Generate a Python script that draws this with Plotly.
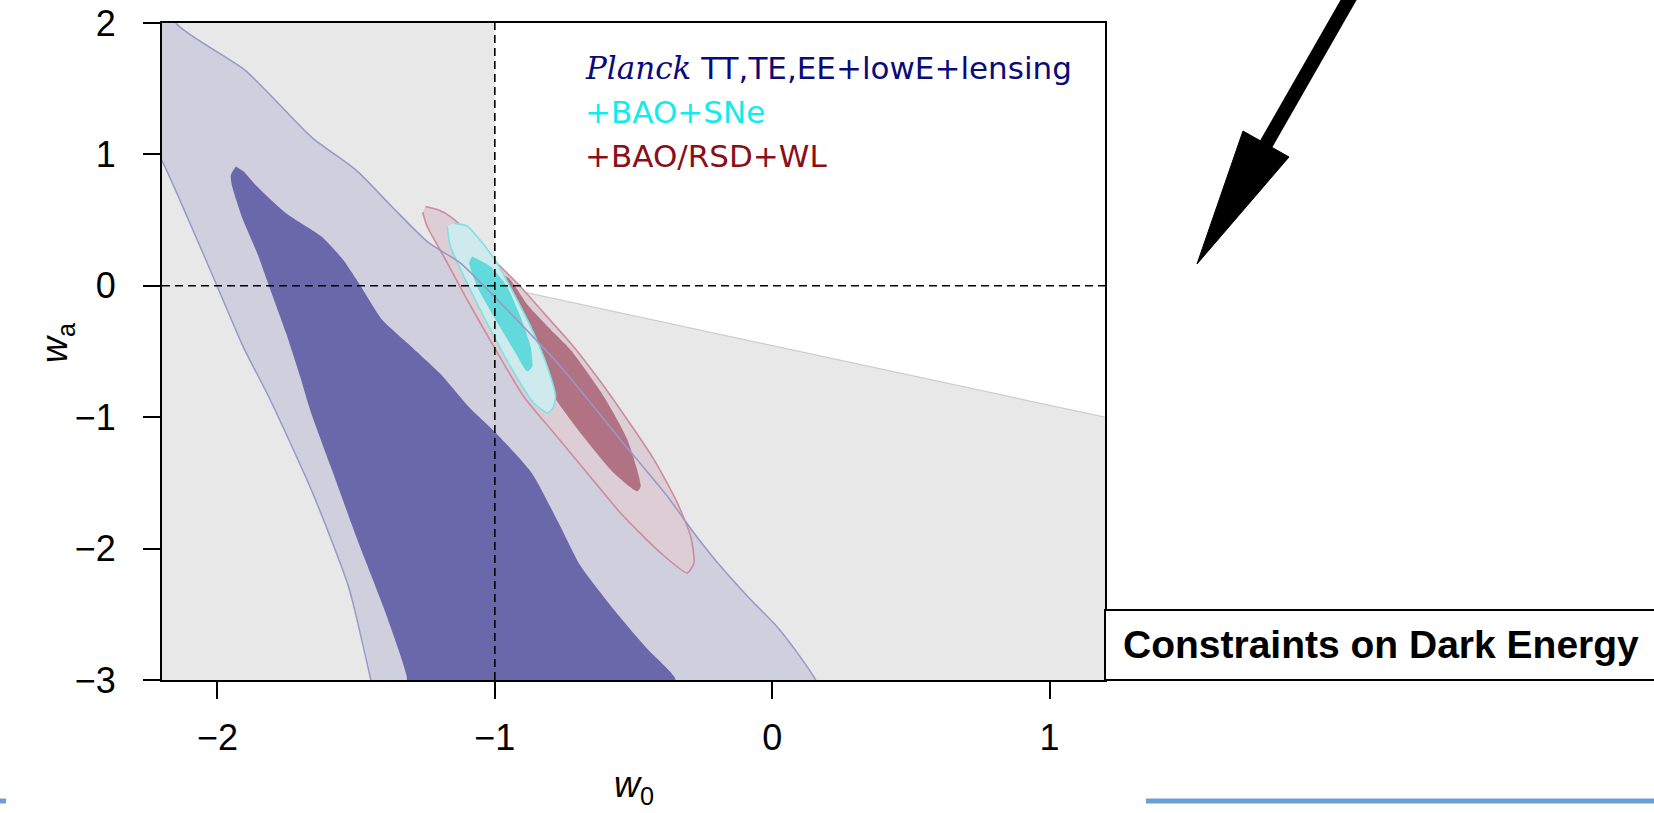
import plotly.graph_objects as go

# ---- data: (w0, wa) contour vertices ----
# region of parameter space outside the prior (grey)
prior_w0 = [-2.2, -1.0, -1.0, 1.2, 1.2, -2.2]
prior_wa = [2.0, 2.0, 0.0, -1.0, -3.0, -3.0]
prior_edge_w0 = [-1.0, 1.2]
prior_edge_wa = [0.0, -1.0]

# Planck TT,TE,EE+lowE+lensing, 95% region
planck95_w0 = [-2.40, -2.19, -2.15, -1.90, -1.66, -1.50, -1.37, -1.24, -1.124, -0.944,
               -0.763, -0.547, -0.378, -0.282, -0.186, -0.09, 0.02, 0.10, 0.157, 0.20,
               -1.47, -1.447, -1.528, -1.657, -1.810, -1.908, -2.011, -2.115, -2.20, -2.26, -2.40]
planck95_wa = [2.30, 2.30, 2.00, 1.64, 1.13, 0.88, 0.60, 0.33, 0.173, -0.208,
               -0.614, -1.171, -1.602, -1.881, -2.135, -2.36, -2.60, -2.82, -3.00, -3.20,
               -3.20, -3.00, -2.287, -1.576, -0.867, -0.461, 0.046, 0.553, 0.95, 1.15, 2.30]
# Planck TT,TE,EE+lowE+lensing, 68% region
planck68_w0 = [-1.934, -1.952, -1.947, -1.908, -1.857, -1.805, -1.753, -1.702, -1.665,
               -1.592, -1.496, -1.399, -1.318, -1.31, -0.33, -0.352, -0.448, -0.561,
               -0.690, -0.770, -0.867, -0.996, -1.09, -1.199, -1.302, -1.406, -1.483,
               -1.547, -1.625, -1.753, -1.857, -1.905]
planck68_wa = [0.907, 0.84, 0.755, 0.502, 0.25, -0.054, -0.358, -0.69, -0.95,
               -1.374, -1.93, -2.46, -2.97, -3.2, -3.2, -2.98, -2.768, -2.49,
               -2.135, -1.805, -1.424, -1.12, -0.93, -0.664, -0.461, -0.259, -0.005,
               0.198, 0.375, 0.553, 0.755, 0.87]

# +BAO/RSD+WL
rsd95_w0 = [-1.250, -1.20, -1.160, -1.064, -0.992, -0.908, -0.823, -0.727, -0.640, -0.547,
            -0.426, -0.342, -0.294, -0.282, -0.306, -0.402, -0.547, -0.667, -0.787,
            -0.896, -1.004, -1.100, -1.184, -1.244, -1.260]
rsd95_wa = [0.603, 0.575, 0.527, 0.350, 0.173, -0.005, -0.208, -0.436, -0.67, -0.943,
            -1.323, -1.652, -1.906, -2.109, -2.185, -2.033, -1.729, -1.424, -1.120,
            -0.842, -0.461, -0.106, 0.223, 0.451, 0.560]
rsd68_w0 = [-0.99, -0.95, -0.88, -0.80, -0.727, -0.607, -0.522, -0.474, -0.486,
            -0.571, -0.691, -0.787, -0.847, -0.896, -0.95]
rsd68_wa = [0.10, 0.06, -0.15, -0.33, -0.487, -0.842, -1.171, -1.526, -1.564,
            -1.424, -1.120, -0.842, -0.614, -0.385, -0.15]

# +BAO+SNe
sne95_w0 = [-1.148, -1.10, -1.064, -0.992, -0.920, -0.860, -0.811, -0.781, -0.790,
            -0.811, -0.860, -0.944, -1.028, -1.100, -1.160, -1.172]
sne95_wa = [0.477, 0.455, 0.375, 0.173, -0.106, -0.360, -0.614, -0.842, -0.930,
            -0.968, -0.892, -0.614, -0.284, 0.020, 0.299, 0.451]
sne68_w0 = [-1.082, -1.016, -0.956, -0.908, -0.871, -0.865, -0.883, -0.932, -1.004,
            -1.064, -1.094]
sne68_wa = [0.223, 0.147, -0.005, -0.233, -0.461, -0.614, -0.651, -0.487, -0.233,
            -0.005, 0.173]

# cosmological-constant reference point
lcdm_w0 = -1.0
lcdm_wa = 0.0

x_range = [-2.2, 1.2]
y_range = [-3.0, 2.0]
x_ticks = [-2, -1, 0, 1]
y_ticks = [-3, -2, -1, 0, 1, 2]

legend_lines = [
    ('<span style="font-family:\'DejaVu Serif\'"><i>Planck</i></span> TT,TE,EE+lowE+lensing', "#0a0a78"),
    ("+BAO+SNe", "#10ecec"),
    ("+BAO/RSD+WL", "#8a0f16"),
]
caption = "Constraints on Dark Energy"

SANS = "Liberation Sans, sans-serif"

# ---- page geometry (pixels) ----
W, H = 1654, 813
L, R, T, B = 162, 1105, 23, 680


def px(x, y):
    """Pixel position on the page -> paper coordinates."""
    return (x - L) / (R - L), (B - y) / (B - T)


fig = go.Figure()


def region(xs, ys, fill, line=None, lw=0.0):
    fig.add_trace(go.Scatter(
        x=xs, y=ys, mode="lines", fill="toself", fillcolor=fill,
        line=dict(color=line or fill, width=lw, shape="spline", smoothing=0.6),
        hoverinfo="skip", showlegend=False))


# grey prior region
fig.add_trace(go.Scatter(x=prior_w0, y=prior_wa, mode="lines", fill="toself",
                         fillcolor="rgb(232,232,232)", line=dict(width=0),
                         hoverinfo="skip", showlegend=False))
fig.add_trace(go.Scatter(x=prior_edge_w0, y=prior_edge_wa, mode="lines",
                         line=dict(color="rgb(205,205,205)", width=1.2),
                         hoverinfo="skip", showlegend=False))

region(planck95_w0, planck95_wa, "rgb(207,207,222)")
region(planck68_w0, planck68_wa, "rgb(106,104,170)")
region(rsd95_w0, rsd95_wa, "rgb(221,205,212)", "rgb(204,140,158)", 1.6)
region(rsd68_w0, rsd68_wa, "rgb(177,115,131)")
region(sne95_w0, sne95_wa, "rgb(206,234,236)", "rgb(125,226,228)", 1.6)
region(sne68_w0, sne68_wa, "rgb(98,218,220)")

# Planck 95% boundary drawn over the other contours (upper and lower edges)
for sl in (slice(0, 20), slice(21, None)):
    fig.add_trace(go.Scatter(x=planck95_w0[sl], y=planck95_wa[sl], mode="lines",
                             line=dict(color="rgb(152,152,200)", width=1.5,
                                       shape="spline", smoothing=0.6),
                             hoverinfo="skip", showlegend=False))

# w = -1 reference lines
dash = dict(color="black", width=1.6, dash="8px,5px")
fig.add_shape(type="line", xref="x", yref="y", x0=lcdm_w0, x1=lcdm_w0,
              y0=y_range[0], y1=y_range[1], line=dash)
fig.add_shape(type="line", xref="x", yref="y", x0=x_range[0], x1=x_range[1],
              y0=lcdm_wa, y1=lcdm_wa, line=dash)

# legend text block
for i, (txt, col) in enumerate(legend_lines):
    ax, ay = px(583, 68 + 44 * i)
    fig.add_annotation(xref="paper", yref="paper", x=ax, y=ay, text=txt,
                       showarrow=False, xanchor="left", yanchor="middle",
                       font=dict(family="DejaVu Sans", size=31, color=col))

# axis titles
tx, ty = px(634, 812)
fig.add_annotation(xref="paper", yref="paper", x=tx, y=ty, yanchor="bottom",
                   text="<i>w</i><sub>0</sub>", showarrow=False,
                   font=dict(family="Liberation Sans", size=36, color="black"))
tx, ty = px(32, 343)
fig.add_annotation(xref="paper", yref="paper", x=tx, y=ty, textangle=-90,
                   text="<i>w</i><sub>a</sub>", showarrow=False,
                   font=dict(family="Liberation Sans", size=36, color="black"))

# caption box
x0, y0 = px(1105, 610)
x1, y1 = px(1662, 680)
fig.add_shape(type="rect", xref="paper", yref="paper", x0=x0, y0=y0, x1=x1, y1=y1,
              line=dict(color="black", width=2), fillcolor="white")
cx, cy = px(1121, 644)
fig.add_annotation(xref="paper", yref="paper", x=cx, y=cy, text="<b>%s</b>" % caption,
                   showarrow=False, xanchor="left", yanchor="middle",
                   font=dict(family="Liberation Sans", size=39, color="black"))

# pointer arrow
sx0, sy0 = px(1352, -6)
sx1, sy1 = px(1265, 146)
fig.add_shape(type="line", xref="paper", yref="paper", x0=sx0, y0=sy0, x1=sx1, y1=sy1,
              line=dict(color="black", width=14))
h = [px(1243, 131), px(1289, 157), px(1197, 264)]
fig.add_shape(type="path", xref="paper", yref="paper",
              path="M %f %f L %f %f L %f %f Z" % (h[0] + h[1] + h[2]),
              fillcolor="black", line=dict(color="black", width=1))

# blue rules along the bottom
for a, b in [(-5, 6), (1146, 1660)]:
    ra, rb = px(a, 801)[0], px(b, 801)[0]
    yy = px(0, 801)[1]
    fig.add_shape(type="line", xref="paper", yref="paper", x0=ra, x1=rb, y0=yy, y1=yy,
                  line=dict(color="rgb(104,160,214)", width=5))

axis_common = dict(showline=True, mirror=True, linecolor="black", linewidth=2,
                   ticks="outside", ticklen=17, tickwidth=2, tickcolor="black",
                   showgrid=False, zeroline=False,
                   tickfont=dict(family=SANS, size=36, color="black"))
fig.update_xaxes(range=x_range, tickvals=x_ticks, ticklabelstandoff=8, **axis_common)
fig.update_yaxes(range=y_range, tickvals=y_ticks, ticklabelstandoff=20, **axis_common)

fig.update_layout(width=W, height=H, margin=dict(l=L, r=W - R, t=T, b=H - B, autoexpand=False),
                  paper_bgcolor="white", plot_bgcolor="white")

fig.write_html("out.html")
